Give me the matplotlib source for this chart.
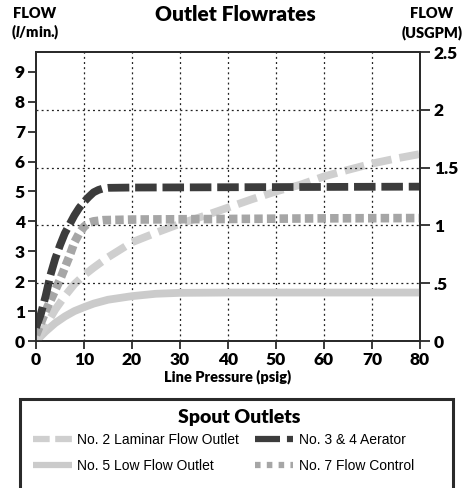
import matplotlib.pyplot as plt
from matplotlib.lines import Line2D
from matplotlib.patches import Rectangle

plt.rcParams['lines.scale_dashes'] = False
plt.rcParams['mathtext.fontset'] = 'custom'
plt.rcParams['mathtext.it'] = 'Lato:italic:heavy'
plt.rcParams['mathtext.rm'] = 'Lato:heavy'

# line pressure (psig) and flow (l/min)
lam_x = [0, 2, 4, 6, 8, 10, 12, 15, 20, 25, 30, 35, 40, 45, 50, 55, 60, 65, 70, 75, 80]
lam_y = [0, 0.5, 1.05, 1.5, 1.9, 2.2, 2.45, 2.8, 3.3, 3.62, 3.92, 4.18, 4.46, 4.74, 5.0,
         5.22, 5.5, 5.72, 5.93, 6.1, 6.25]

aer_x = [0, 1, 2, 3, 4, 5, 6, 7, 8, 9, 10, 11, 12, 13, 14, 15, 20, 40, 60, 80]
aer_y = [0.45, 0.9, 1.5, 2.2, 2.75, 3.2, 3.6, 3.9, 4.2, 4.45, 4.65, 4.82, 4.97, 5.05,
         5.1, 5.12, 5.13, 5.14, 5.15, 5.16]

low_x = [0, 2, 4, 6, 8, 10, 12, 15, 20, 25, 30, 40, 60, 80]
low_y = [0, 0.32, 0.6, 0.82, 1.0, 1.13, 1.25, 1.38, 1.5, 1.58, 1.61, 1.62, 1.62, 1.62]

fc_x = [0, 1, 2, 3, 4, 5, 6, 7, 8, 9, 10, 11, 12, 14, 20, 40, 60, 80]
fc_y = [0.2, 0.6, 1.0, 1.35, 1.7, 2.05, 2.45, 2.85, 3.3, 3.6, 3.82, 3.95, 4.0, 4.04,
        4.06, 4.08, 4.1, 4.11]

x_ticks = [0, 10, 20, 30, 40, 50, 60, 70, 80]
left_ticks = [0, 1, 2, 3, 4, 5, 6, 7, 8, 9]
right_ticks = [0, 0.5, 1, 1.5, 2, 2.5]
right_labels = ['0', '.5', '1', '1.5', '2', '2.5']

labels = ['No. 2 Laminar Flow Outlet', 'No. 5 Low Flow Outlet',
          'No. 3 & 4 Aerator', 'No. 7 Flow Control']

c_lam = '#cfcfcf'
c_low = '#cbcbcb'
c_aer = '#3c3c3c'
c_fc = '#a6a6a6'
BOLD = dict(family='Lato', weight='heavy')

fig = plt.figure(figsize=(4.67, 4.88), dpi=100)
ax = fig.add_axes([0.0771, 0.3012, 0.8223, 0.5922])
ax2 = ax.twinx()

ax.set_xlim(0, 80)
ax.set_ylim(0, 9.66)
ax2.set_ylim(0, 2.5)

# grid: vertical on x ticks, horizontal on right axis ticks
for v in x_ticks[1:-1]:
    ax.axvline(v, color='#222222', lw=0.9, dashes=(1.4, 2.3), zorder=1)
for v in right_ticks[1:-1]:
    ax2.axhline(v, color='#222222', lw=0.9, dashes=(1.4, 2.3), zorder=1)

lw = 5.6
ax.plot(low_x, low_y, color=c_low, lw=lw, solid_capstyle='butt', zorder=3)
ax.plot(lam_x, lam_y, color=c_lam, lw=lw, dashes=(14.4, 5.8), dash_capstyle='butt', zorder=3)
ax.plot(fc_x, fc_y, color=c_fc, lw=6.2, dashes=(6.1, 3.0), dash_capstyle='butt', zorder=4)
ax.plot(aer_x, aer_y, color=c_aer, lw=lw, dashes=(15.5, 4.2), dash_capstyle='butt', zorder=5)

ax.set_xticks(x_ticks)
ax.set_yticks(left_ticks)
ax2.set_yticks(right_ticks)
ax2.set_yticklabels(right_labels)

for a in (ax, ax2):
    for s in a.spines.values():
        s.set_linewidth(1.3)
        s.set_color('#2a2a2a')
ax.tick_params(axis='both', direction='out', length=6, width=1.3, color='#2a2a2a', pad=2)
ax2.tick_params(axis='y', direction='out', length=7, width=1.3, color='#2a2a2a', pad=3)
for t in ax.get_xticklabels() + ax.get_yticklabels() + ax2.get_yticklabels():
    t.set_fontfamily('Lato')
    t.set_fontweight('heavy')
    t.set_fontsize(12.5)

ax.set_xlabel('Line Pressure (psig)', fontsize=10.5, labelpad=1, **BOLD)
fig.text(0.505, 0.971, 'Outlet Flowrates', ha='center', va='center', fontsize=15, **BOLD)
fig.text(0.075, 0.973, 'FLOW', ha='center', va='center', fontsize=10.5, **BOLD)
fig.text(0.075, 0.933, '($\\mathit{l}$/min.)', ha='center', va='center', fontsize=10.5, **BOLD)
fig.text(0.925, 0.973, 'FLOW', ha='center', va='center', fontsize=10.5, **BOLD)
fig.text(0.925, 0.933, '(USGPM)', ha='center', va='center', fontsize=10.5, **BOLD)

# legend box
fig.patches.append(Rectangle((20 / 467, -0.05), 433 / 467, 1 - 399 / 488 + 0.05,
                             transform=fig.transFigure, fill=False,
                             edgecolor='#2a2a2a', lw=2.2))
fig.text(0.512, 1 - 418 / 488, 'Spout Outlets', ha='center', va='center', fontsize=14, **BOLD)

handles = [
    Line2D([], [], color=c_lam, lw=4.5, dashes=(12, 4), dash_capstyle='butt'),
    Line2D([], [], color=c_low, lw=4.5, solid_capstyle='butt'),
    Line2D([], [], color=c_aer, lw=4.5, dashes=(18, 5), dash_capstyle='butt'),
    Line2D([], [], color=c_fc, lw=4.5, dashes=(4, 4.5), dash_capstyle='butt'),
]
fig.legend(handles, labels, ncol=2, frameon=False, loc='upper left',
           bbox_to_anchor=(33 / 467, 1 - 433 / 488), prop=dict(family='Liberation Sans', size=10),
           handlelength=2.8, handletextpad=0.4, columnspacing=1.1, labelspacing=0.85,
           borderaxespad=0, borderpad=0)

fig.savefig('out.png', dpi=100)
